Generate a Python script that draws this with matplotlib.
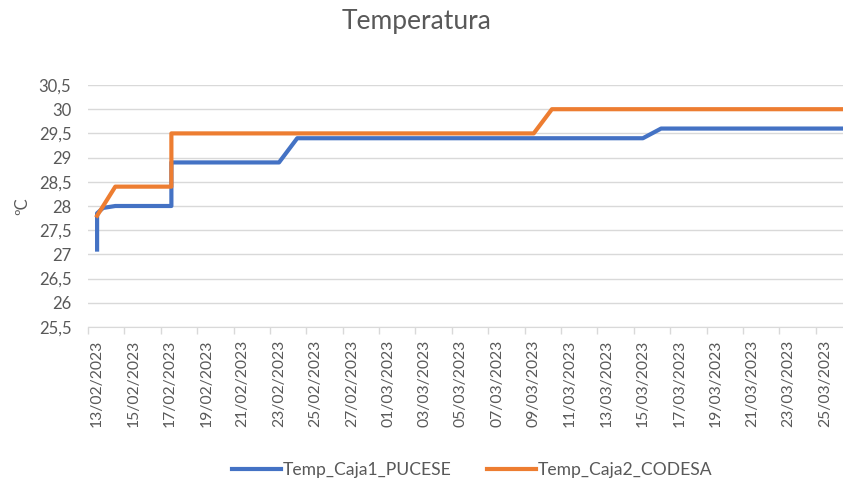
#!/usr/bin/env python3

import pandas as pd
import matplotlib
matplotlib.use('Agg')
import matplotlib.pyplot as plt
import matplotlib.dates as mdates
from matplotlib.ticker import FixedLocator, NullFormatter

BLUE = '#4472C4'
ORANGE = '#ED7D31'
GREY_TEXT = '#595959'
GREY_GRID = '#D9D9D9'

# readings (time, ºC)
caja1_times = ['2023-02-13 00:00', '2023-02-13 00:00', '2023-02-13 08:00', '2023-02-14 00:00',
               '2023-02-17 02:00', '2023-02-17 02:00', '2023-02-23 00:00', '2023-02-24 00:00',
               '2023-03-15 00:00', '2023-03-16 00:00', '2023-03-27 00:00']
caja1_temp = [27.1, 27.85, 27.96, 28.0, 28.0, 28.9, 28.9, 29.4, 29.4, 29.6, 29.6]

caja2_times = ['2023-02-13 00:00', '2023-02-14 00:00', '2023-02-17 02:00', '2023-02-17 02:00',
               '2023-03-09 00:00', '2023-03-10 00:00', '2023-03-27 00:00']
caja2_temp = [27.8, 28.4, 28.4, 29.5, 29.5, 30.0, 30.0]

tick_dates = pd.date_range('2023-02-13', '2023-03-25', freq='2D')
y_ticks = [25.5, 26, 26.5, 27, 27.5, 28, 28.5, 29, 29.5, 30, 30.5]


def main():
    plt.rcParams['font.family'] = ['Lato', 'DejaVu Sans']
    fig = plt.figure(figsize=(8.43, 4.83), dpi=100)
    ax = fig.add_axes([88 / 843, (483 - 327) / 483, 1 - 88 / 843, (327 - 85) / 483])

    x1 = mdates.date2num(pd.to_datetime(caja1_times))
    x2 = mdates.date2num(pd.to_datetime(caja2_times))
    ax.plot(x1, caja1_temp, color=BLUE, lw=3, solid_joinstyle='round', label='Temp_Caja1_PUCESE', zorder=3)
    ax.plot(x2, caja2_temp, color=ORANGE, lw=3, solid_joinstyle='round', label='Temp_Caja2_CODESA', zorder=3)

    t0 = mdates.date2num(tick_dates[0])
    ax.set_xlim(t0 - 0.5, t0 + 41.0)
    ax.set_ylim(25.5, 30.5)

    # labels at the day, tick marks between days
    ticks = mdates.date2num(tick_dates)
    ax.xaxis.set_major_locator(FixedLocator(ticks))
    ax.set_xticklabels([d.strftime('%d/%m/%Y') for d in tick_dates], rotation=90,
                       fontsize=11.3, color=GREY_TEXT)
    ax.xaxis.set_minor_locator(FixedLocator(ticks - 0.5))
    ax.xaxis.set_minor_formatter(NullFormatter())
    ax.tick_params(axis='x', which='major', length=0, pad=9)
    ax.tick_params(axis='x', which='minor', length=5, color=GREY_GRID, width=1)

    ax.set_yticks(y_ticks)
    ax.set_yticklabels([str(v).replace('.', ',') if v % 1 else str(int(v)) for v in y_ticks],
                       fontsize=12, color=GREY_TEXT)
    ax.tick_params(axis='y', length=0, pad=12)
    ax.yaxis.grid(True, color=GREY_GRID, lw=1)
    ax.set_axisbelow(True)

    for side in ['top', 'right', 'left']:
        ax.spines[side].set_visible(False)
    ax.spines['bottom'].set_color(GREY_GRID)

    ax.set_ylabel('ºC', fontsize=12, color=GREY_TEXT, labelpad=6)
    fig.text(0.494, 0.956, 'Temperatura', ha='center', va='center', fontsize=19, color=GREY_TEXT)

    fig.legend(loc='center', bbox_to_anchor=(0.56, 0.027), ncol=2, frameon=False,
               fontsize=12.6, handlelength=2.8, columnspacing=2.0, handletextpad=0.1,
               labelcolor=GREY_TEXT)

    fig.savefig('out.png', dpi=100)


if __name__ == '__main__':
    main()
